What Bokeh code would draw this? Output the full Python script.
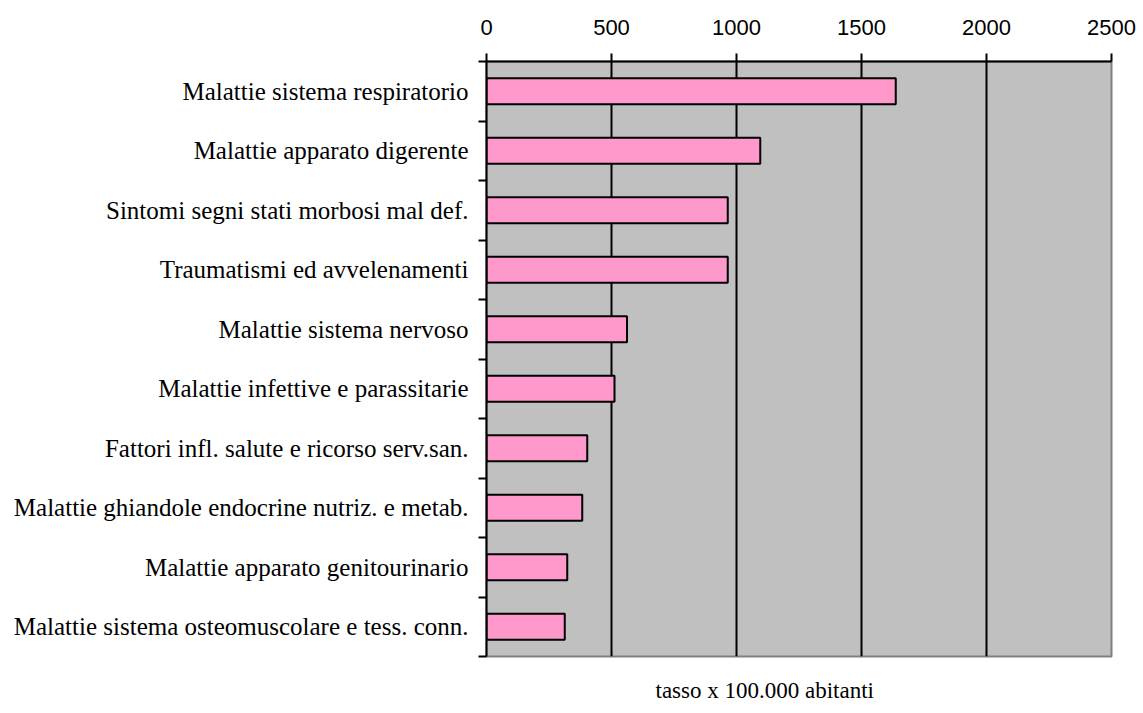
from bokeh.plotting import figure
from bokeh.models import Range1d, FixedTicker, Title
from bokeh.embed import file_html
from bokeh.resources import INLINE

categories = [
    "Malattie sistema respiratorio",
    "Malattie apparato digerente",
    "Sintomi segni stati morbosi mal def.",
    "Traumatismi ed avvelenamenti",
    "Malattie sistema nervoso",
    "Malattie infettive e parassitarie",
    "Fattori infl. salute e ricorso serv.san.",
    "Malattie ghiandole endocrine nutriz. e metab.",
    "Malattie apparato genitourinario",
    "Malattie sistema osteomuscolare e tess. conn.",
]
values = [1637, 1095, 965, 965, 562, 512, 403, 383, 323, 313]
x_ticks = [0, 500, 1000, 1500, 2000, 2500]
x_title = "tasso x 100.000 abitanti"

n = len(categories)
ys = [i + 0.5 for i in range(n)]

p = figure(width=1143, height=725,
           x_range=Range1d(0, 2500), y_range=Range1d(n, 0),
           x_axis_location="above",
           output_backend="svg", toolbar_location=None,
           min_border_left=486, min_border_right=32,
           min_border_top=61, min_border_bottom=69)

p.background_fill_color = "#C0C0C0"
p.border_fill_color = "white"
p.outline_line_color = "#808080"
p.outline_line_width = 2

p.hbar(y=ys, left=0, right=values, height=0.44,
       fill_color="#FF99CC", line_color="black", line_width=2)

# x axis (top)
xa = p.xaxis[0]
xa.ticker = FixedTicker(ticks=x_ticks, minor_ticks=[])
xa.axis_line_width = 2
xa.axis_line_color = "black"
xa.major_tick_out = 8
xa.major_tick_in = 0
xa.major_tick_line_width = 2
xa.minor_tick_out = 0
xa.minor_tick_in = 0
xa.major_label_text_font = "Liberation Sans"
xa.major_label_text_font_size = "22px"
xa.major_label_text_color = "black"
xa.major_label_standoff = 19

# y axis (left)
ya = p.yaxis[0]
ya.ticker = FixedTicker(ticks=ys, minor_ticks=list(range(n + 1)))
ya.major_label_overrides = {y: c for y, c in zip(ys, categories)}
ya.axis_line_width = 2
ya.axis_line_color = "black"
ya.major_tick_out = 0
ya.major_tick_in = 0
ya.minor_tick_out = 8
ya.minor_tick_in = 0
ya.minor_tick_line_width = 2
ya.minor_tick_line_color = "black"
ya.major_label_text_font = "Liberation Serif"
ya.major_label_text_font_size = "25px"
ya.major_label_text_color = "black"
ya.major_label_standoff = 10

p.xgrid.ticker = FixedTicker(ticks=[500, 1000, 1500, 2000])
p.xgrid.grid_line_color = "black"
p.xgrid.grid_line_width = 2
p.ygrid.visible = False

t = Title(text=x_title, align="left", offset=169,
          text_font="Liberation Serif", text_font_size="23px",
          text_font_style="normal", text_color="black", standoff=38)
p.add_layout(t, "below")

open("out.html", "w").write(file_html(p, INLINE))
